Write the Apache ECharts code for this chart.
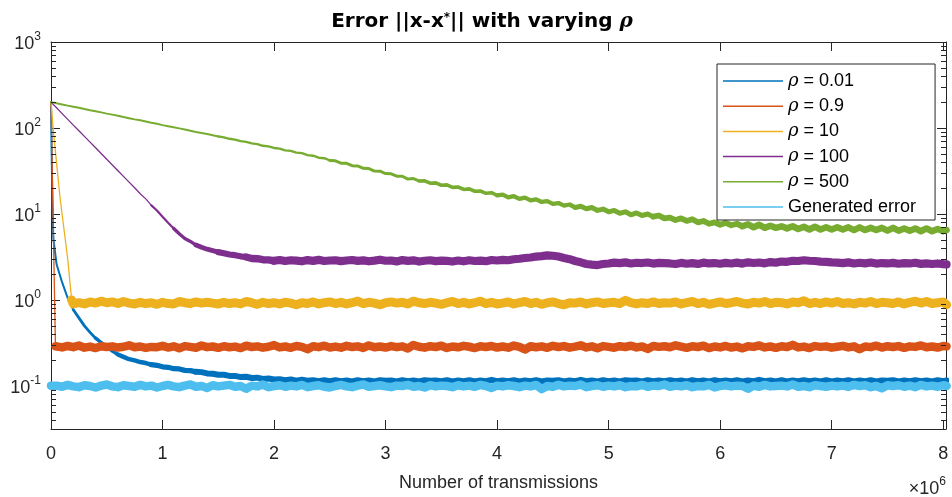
<!DOCTYPE html>
<html>
<head>
<meta charset="utf-8">
<script src="https://cdn.jsdelivr.net/npm/echarts@6/dist/echarts.min.js"></script>
<style>html,body{margin:0;padding:0;background:#fff}#c{width:952px;height:497px}</style>
</head>
<body>
<div id="c"></div>
<script>
// ---- data (x in units of 10^6 transmissions) ----
const X_MAX = 8.025;
const Y_MIN = 0.031622776601683794;
const Y_MAX = 1000;
const X_TICKS = [0,1,2,3,4,5,6,7,8];
const Y_MINOR = [0.04,0.05,0.06,0.07,0.08,0.09,0.2,0.3,0.4,0.5,0.6,0.7,0.8,0.9,2,3,4,5,6,7,8,9,20,30,40,50,60,70,80,90,200,300,400,500,600,700,800,900];
const SERIES_NAMES = ['ρ = 0.01','ρ = 0.9','ρ = 10','ρ = 100','ρ = 500','Generated error'];

const GRID = [
0.05,0.1,0.15,0.2,0.25,0.3,0.35,0.4,0.45,0.5,
0.55,0.6,0.65,0.7,0.75,0.8,0.85,0.9,0.95,1.0,
1.05,1.1,1.15,1.2,1.25,1.3,1.35,1.4,1.45,1.5,
1.55,1.6,1.65,1.7,1.75,1.8,1.85,1.9,1.95,2.0,
2.05,2.1,2.15,2.2,2.25,2.3,2.35,2.4,2.45,2.5,
2.55,2.6,2.65,2.7,2.75,2.8,2.85,2.9,2.95,3.0,
3.05,3.1,3.15,3.2,3.25,3.3,3.35,3.4,3.45,3.5,
3.55,3.6,3.65,3.7,3.75,3.8,3.85,3.9,3.95,4.0,
4.05,4.1,4.15,4.2,4.25,4.3,4.35,4.4,4.45,4.5,
4.55,4.6,4.65,4.7,4.75,4.8,4.85,4.9,4.95,5.0,
5.05,5.1,5.15,5.2,5.25,5.3,5.35,5.4,5.45,5.5,
5.55,5.6,5.65,5.7,5.75,5.8,5.85,5.9,5.95,6.0,
6.05,6.1,6.15,6.2,6.25,6.3,6.35,6.4,6.45,6.5,
6.55,6.6,6.65,6.7,6.75,6.8,6.85,6.9,6.95,7.0,
7.05,7.1,7.15,7.2,7.25,7.3,7.35,7.4,7.45,7.5,
7.55,7.6,7.65,7.7,7.75,7.8,7.85,7.9,7.95,8.0,
8.03];

// rho = 0.01
const blueHead = [[0,200],[0.005,60],[0.012,15],[0.021,5.2]];
const blueVals = [
2.6,1.6,1.05,0.77,0.62,0.50,0.42,0.36,0.32,0.285,
0.255,0.232,0.218,0.205,0.199,0.190,0.185,0.177,0.174,0.167,
0.165,0.159,0.158,0.152,0.151,0.146,0.145,0.140,0.139,0.135,
0.135,0.131,0.131,0.127,0.128,0.124,0.125,0.121,0.122,0.119,
0.120,0.117,0.119,0.115,0.118,0.115,0.117,0.114,0.117,0.114,
0.117,0.114,0.116,0.113,0.117,0.114,0.116,0.113,0.117,0.115,
0.116,0.113,0.117,0.114,0.116,0.113,0.117,0.115,0.116,0.114,
0.117,0.113,0.116,0.114,0.117,0.113,0.116,0.114,0.118,0.114,
0.116,0.114,0.117,0.113,0.116,0.114,0.117,0.113,0.116,0.115,
0.117,0.113,0.116,0.114,0.118,0.114,0.116,0.113,0.117,0.114,
0.116,0.113,0.117,0.115,0.116,0.113,0.117,0.114,0.116,0.114,
0.117,0.114,0.116,0.113,0.117,0.114,0.116,0.113,0.117,0.114,
0.116,0.114,0.117,0.113,0.116,0.114,0.118,0.114,0.116,0.113,
0.117,0.113,0.116,0.114,0.117,0.114,0.116,0.113,0.117,0.113,
0.116,0.114,0.117,0.113,0.116,0.114,0.117,0.113,0.116,0.115,
0.117,0.113,0.116,0.114,0.117,0.114,0.116,0.113,0.117,0.114,
0.116];

// rho = 0.9
const redHead = [[0,200],[0.04,0.29]];
const redVals = [
0.288,0.281,0.292,0.283,0.296,0.279,0.287,0.276,0.290,0.284,
0.289,0.280,0.286,0.297,0.282,0.288,0.277,0.285,0.283,0.293,
0.280,0.289,0.274,0.291,0.285,0.279,0.295,0.283,0.288,0.278,
0.290,0.282,0.287,0.276,0.294,0.284,0.289,0.279,0.286,0.299,
0.281,0.288,0.278,0.292,0.285,0.268,0.290,0.283,0.294,0.280,
0.287,0.279,0.293,0.284,0.289,0.277,0.296,0.282,0.288,0.280,
0.291,0.283,0.289,0.273,0.300,0.286,0.279,0.290,0.284,0.294,
0.277,0.288,0.282,0.293,0.286,0.276,0.290,0.284,0.292,0.280,
0.288,0.279,0.295,0.285,0.266,0.290,0.282,0.289,0.278,0.293,
0.284,0.291,0.279,0.287,0.297,0.281,0.289,0.275,0.291,0.285,
0.279,0.290,0.284,0.294,0.281,0.288,0.270,0.292,0.285,0.290,
0.282,0.297,0.287,0.278,0.290,0.284,0.294,0.276,0.288,0.281,
0.292,0.280,0.287,0.274,0.290,0.285,0.296,0.281,0.288,0.278,
0.290,0.284,0.301,0.281,0.287,0.276,0.291,0.285,0.289,0.279,
0.286,0.293,0.281,0.289,0.268,0.288,0.283,0.294,0.280,0.290,
0.284,0.291,0.278,0.289,0.285,0.296,0.282,0.288,0.280,0.292,
0.289];

// rho = 10
const yellowHead = [[0,200],[0.02,96],[0.08,16],[0.185,1.0]];
const yellowVals = [
39,9.8,3.0,0.90,0.93,0.90,0.95,0.92,0.97,0.93,
0.95,0.91,0.96,0.92,0.90,0.94,0.91,0.93,0.89,0.94,
0.91,0.90,0.96,0.93,0.91,0.95,0.92,0.94,0.92,0.90,
0.94,0.91,0.93,0.90,0.96,0.93,0.89,0.94,0.91,0.93,
0.90,0.94,0.92,0.88,0.93,0.91,0.95,0.90,0.93,0.95,
0.91,0.94,0.90,0.93,0.97,0.91,0.94,0.92,0.88,0.93,
0.95,0.92,0.94,0.90,0.97,0.93,0.91,0.94,0.92,0.89,
0.93,0.96,0.91,0.94,0.90,0.93,0.97,0.91,0.94,0.90,
0.92,0.95,0.90,0.93,0.96,0.91,0.94,0.89,0.93,0.95,
0.91,0.88,0.93,0.92,0.95,0.90,0.93,0.95,0.91,0.93,
0.94,0.91,0.99,0.93,0.90,0.93,0.91,0.95,0.91,0.93,
0.92,0.95,0.90,0.93,0.96,0.91,0.94,0.89,0.92,0.95,
0.91,0.93,0.96,0.92,0.90,0.94,0.92,0.96,0.91,0.94,
0.93,0.90,0.95,0.93,0.98,0.91,0.94,0.91,0.95,0.92,
0.96,0.91,0.93,0.90,0.94,0.92,0.96,0.91,0.94,0.93,
0.91,0.95,0.90,0.94,0.97,0.92,0.96,0.91,0.93,0.95,
0.88];

// rho = 100
const purpleHead = [[0,200]];
const purpleVals = [
172,147,126,108,93,80,68.5,58.9,50.5,43.3,
37.2,31.9,27.4,23.5,20.2,17.2,15.0,12.6,11.0,9.3,
7.9,6.8,5.9,5.2,4.8,4.35,4.1,3.9,3.75,3.6,
3.50,3.38,3.32,3.22,3.16,3.04,3.02,2.94,2.93,2.86,
2.92,2.84,2.90,2.87,2.82,2.91,2.85,2.93,2.84,2.88,
2.90,2.83,2.88,2.92,2.85,2.89,2.82,2.87,2.94,2.86,
2.88,2.81,2.91,2.85,2.89,2.80,2.86,2.90,2.83,2.87,
2.85,2.80,2.88,2.82,2.90,2.84,2.87,2.83,2.92,2.88,
2.93,2.90,2.98,3.02,3.08,3.12,3.20,3.24,3.30,3.27,
3.20,3.08,2.98,2.84,2.74,2.62,2.58,2.55,2.62,2.66,
2.72,2.68,2.74,2.66,2.71,2.69,2.73,2.65,2.70,2.68,
2.66,2.62,2.70,2.64,2.68,2.63,2.72,2.66,2.69,2.64,
2.70,2.66,2.72,2.65,2.74,2.69,2.73,2.67,2.76,2.72,
2.80,2.78,2.86,2.84,2.90,2.86,2.84,2.80,2.78,2.74,
2.72,2.68,2.74,2.66,2.71,2.67,2.73,2.65,2.69,2.66,
2.70,2.64,2.68,2.66,2.71,2.63,2.67,2.62,2.66,2.61,
2.60];

// rho = 500
const greenHead = [[0,200]];
const greenVals = [
194,188,182,177,172,166,161,157,152,147,
143,139,134,130,126,123,119,115,112,108,
105,102,99,96,93,90,87.5,85,82.4,79.8,
77.8,74.9,73.3,70.4,69.0,66.2,64.9,62.1,61.2,58.6,
57.6,55.0,54.2,51.7,51.0,48.4,47.6,45.1,44.5,42.0,
41.5,39.0,38.8,36.4,36.2,34.0,33.8,31.6,31.5,29.5,
29.3,27.5,27.5,25.5,25.8,24.2,24.3,22.8,23.0,21.6,
21.8,20.4,20.6,19.3,19.6,18.4,18.5,17.4,17.7,16.5,
16.8,15.6,16.1,15.0,15.5,14.4,14.8,13.8,14.1,13.1,
13.4,12.5,12.9,11.9,12.3,11.5,11.9,11.0,11.4,10.6,
11.0,10.2,10.6,9.8,10.3,9.6,10.0,9.3,9.6,8.9,
9.1,8.5,8.9,8.3,8.7,8.0,8.3,7.7,8.0,7.5,
7.9,7.4,7.7,7.2,7.6,7.0,7.5,6.9,7.3,6.9,
7.2,6.8,7.2,6.7,7.1,6.6,7.1,6.6,7.0,6.6,
7.0,6.6,7.0,6.5,7.0,6.5,6.9,6.5,6.9,6.4,
6.9,6.4,6.8,6.4,6.8,6.3,6.8,6.3,6.7,6.3,
6.5];

// Generated error
const lbHead = [[0,0.101]];
const lbVals = [
0.101,0.098,0.103,0.099,0.097,0.102,0.100,0.096,0.101,0.104,
0.099,0.097,0.102,0.100,0.098,0.103,0.099,0.101,0.096,0.100,
0.103,0.099,0.097,0.101,0.104,0.098,0.100,0.095,0.102,0.099,
0.101,0.103,0.098,0.100,0.093,0.101,0.099,0.104,0.097,0.100,
0.102,0.098,0.101,0.099,0.103,0.097,0.100,0.102,0.098,0.096,
0.100,0.103,0.099,0.097,0.101,0.104,0.098,0.100,0.102,0.099,
0.097,0.101,0.100,0.103,0.098,0.100,0.096,0.102,0.099,0.101,
0.100,0.097,0.102,0.099,0.101,0.098,0.103,0.100,0.095,0.101,
0.099,0.102,0.100,0.097,0.101,0.099,0.103,0.092,0.100,0.098,
0.103,0.099,0.101,0.100,0.104,0.097,0.100,0.102,0.098,0.101,
0.099,0.102,0.097,0.100,0.099,0.103,0.098,0.101,0.100,0.104,
0.098,0.101,0.099,0.102,0.097,0.100,0.099,0.103,0.096,0.100,
0.102,0.099,0.101,0.100,0.093,0.101,0.098,0.103,0.099,0.100,
0.101,0.099,0.104,0.098,0.100,0.097,0.102,0.100,0.098,0.101,
0.099,0.101,0.098,0.103,0.100,0.102,0.097,0.100,0.094,0.102,
0.100,0.102,0.098,0.101,0.097,0.103,0.099,0.101,0.098,0.102,
0.100];

// ---- build ----
function build(head, vals) {
  const pts = head.map(p => [p[0], p[1]]);
  const n = Math.min(GRID.length, vals.length);
  for (let i = 0; i < n; i++) pts.push([GRID[i], vals[i]]);
  pts.sort((a, b) => a[0] - b[0]);
  return pts;
}
const DATA = [
  build(blueHead, blueVals), build(redHead, redVals), build(yellowHead, yellowVals),
  build(purpleHead, purpleVals), build(greenHead, greenVals), build(lbHead, lbVals)
];

// ---- style ----
const COLORS = ['#0072BD','#D95319','#EDB120','#7E2F8E','#77AC30','#4DBEEE'];
// stroke width per x-range (start x in 10^6, width px): thin where the curve is clean, thick where it is a noisy band
const STROKES = [
  [[0, 2.0], [0.2, 2.8], [0.4, 3.6], [0.6, 4.4], [0.9, 5.2], [1.3, 6.0]],
  [[0, 1.3], [0.04, 8.5]],
  [[0, 1.3], [0.185, 9]],
  [[0, 1.3], [0.9, 2.2], [1.1, 3.4], [1.3, 4.8], [1.5, 6.2], [1.75, 7.4], [2.0, 8.2]],
  [[0, 2.0], [1.5, 2.4], [2.5, 3.0], [3.3, 3.6], [4.0, 4.3], [4.7, 5.0], [5.4, 5.8], [6.2, 6.5]],
  [[0, 8.5]]
];

const FONT = 'Liberation Sans, Arial, Helvetica, sans-serif';
const INK = '#262626';

const chart = echarts.init(document.getElementById('c'), null, {renderer: 'canvas'});

const lineSeries = [];
SERIES_NAMES.forEach((name, i) => {
  const pts = DATA[i];
  const segs = STROKES[i];
  segs.forEach((seg, k) => {
    const x0 = seg[0];
    const x1 = k + 1 < segs.length ? segs[k + 1][0] : Infinity;
    const part = pts.filter(p => p[0] >= x0 && p[0] <= x1);
    if (part.length < 2) return;
    lineSeries.push({
      name: name, type: 'line', data: part, symbol: 'none', showSymbol: false,
      xAxisIndex: 0, yAxisIndex: 0, animation: false,
      itemStyle: {color: COLORS[i]}, emphasis: {disabled: true}, z: 2,
      lineStyle: {color: COLORS[i], width: seg[1], join: 'round', cap: 'round'}
    });
  });
});

const yLabelFmt = function (v) {
  const e = Math.log10(v);
  const r = Math.round(e);
  if (Math.abs(e - r) > 1e-6) return '';
  return '{b|10}{s|' + r + '}';
};

const axisCommon = {
  axisLine: {show: true, onZero: false, lineStyle: {color: INK, width: 1}},
  axisTick: {show: true, inside: true, length: 9, lineStyle: {color: INK, width: 1}},
  splitLine: {show: false}
};

const TITLE_FONT = 'DejaVu Sans, Verdana, sans-serif';

const option = {
  backgroundColor: '#ffffff',
  animation: false,
  textStyle: {fontFamily: FONT},
  title: {
    text: '{t|Error ||x-x}{s|*}{t||| with varying }{r|ρ}',
    left: 477, top: 7, textAlign: 'center',
    textStyle: {
      rich: {
        t: {fontFamily: TITLE_FONT, fontSize: 20, fontWeight: 'bold', color: '#000', lineHeight: 20, padding: [5,0,0,0], verticalAlign: 'bottom'},
        s: {fontFamily: TITLE_FONT, fontSize: 12, fontWeight: 'bold', color: '#000', lineHeight: 12, verticalAlign: 'top'},
        r: {fontFamily: 'DejaVu Serif, serif', fontSize: 20, fontStyle: 'italic', fontWeight: 'bold', color: '#000', lineHeight: 20, padding: [5,0,0,0], verticalAlign: 'bottom'}
      }
    }
  },
  grid: {left: 51, top: 42, right: 6, bottom: 66, containLabel: false},
  legend: {
    show: true, data: SERIES_NAMES, orient: 'vertical', left: 717, top: 64,
    icon: 'rect', itemWidth: 60, itemHeight: 1.5, itemGap: 7.2,
    padding: [8, 19, 4, 6],
    backgroundColor: '#ffffff', borderColor: INK, borderWidth: 1,
    selectedMode: false,
    textStyle: {fontFamily: FONT, fontSize: 18, lineHeight: 18, color: '#000', rich: {
      r: {fontFamily: 'DejaVu Serif, serif', fontSize: 18, lineHeight: 18, fontStyle: 'italic', color: '#000'}
    }},
    formatter: function (name) {
      return name.charAt(0) === 'ρ' ? '{r|ρ}' + name.slice(1) : name;
    }
  },
  xAxis: [
    Object.assign({}, axisCommon, {
      type: 'value', position: 'bottom', min: 0, max: X_MAX, interval: 1,
      name: 'Number of transmissions', nameLocation: 'middle', nameGap: 45,
      nameTextStyle: {fontFamily: FONT, fontSize: 18, color: INK},
      axisLabel: {show: true, margin: 16, fontFamily: FONT, fontSize: 18, color: INK,
        formatter: function (v) { return X_TICKS.indexOf(v) >= 0 ? String(v) : ''; }}
    }),
    Object.assign({}, axisCommon, {
      type: 'value', position: 'top', min: 0, max: X_MAX, interval: 1,
      axisLabel: {show: false}
    })
  ],
  yAxis: [
    Object.assign({}, axisCommon, {
      type: 'log', logBase: 10, position: 'left', min: Y_MIN, max: Y_MAX,
      axisLabel: {show: true, margin: 10, formatter: yLabelFmt, color: INK,
        rich: {
          b: {fontFamily: FONT, fontSize: 18, color: INK, lineHeight: 22, verticalAlign: 'bottom'},
          s: {fontFamily: FONT, fontSize: 12, color: INK, lineHeight: 12, verticalAlign: 'top'}
        }}
    }),
    Object.assign({}, axisCommon, {
      type: 'log', logBase: 10, position: 'right', min: Y_MIN, max: Y_MAX,
      axisLabel: {show: false}
    })
  ],
  graphic: [{
    type: 'text', right: 6, top: 476, z: 10,
    style: {
      text: '{a|×10}{s|6}',
      rich: {
        a: {fontFamily: FONT, fontSize: 18, fill: INK, lineHeight: 22, verticalAlign: 'bottom'},
        s: {fontFamily: FONT, fontSize: 12, fill: INK, lineHeight: 12, verticalAlign: 'top'}
      }
    }
  }],
  series: lineSeries.concat([{
    type: 'custom', name: '__minor', coordinateSystem: 'cartesian2d', xAxisIndex: 0, yAxisIndex: 0,
    silent: true, animation: false, z: 5, clip: false,
    data: Y_MINOR.map(v => [0, v]),
    renderItem: function (params, api) {
      const v = api.value(1);
      const pl = api.coord([0, v]);
      const pr = api.coord([X_MAX, v]);
      const y = Math.round(pl[1]) + 0.5;
      return {type: 'group', children: [
        {type: 'line', shape: {x1: pl[0], y1: y, x2: pl[0] + 5, y2: y}, style: {stroke: INK, lineWidth: 1}},
        {type: 'line', shape: {x1: pr[0] - 5, y1: y, x2: pr[0], y2: y}, style: {stroke: INK, lineWidth: 1}}
      ]};
    }
  }])
};

chart.setOption(option);
</script>
</body>
</html>
